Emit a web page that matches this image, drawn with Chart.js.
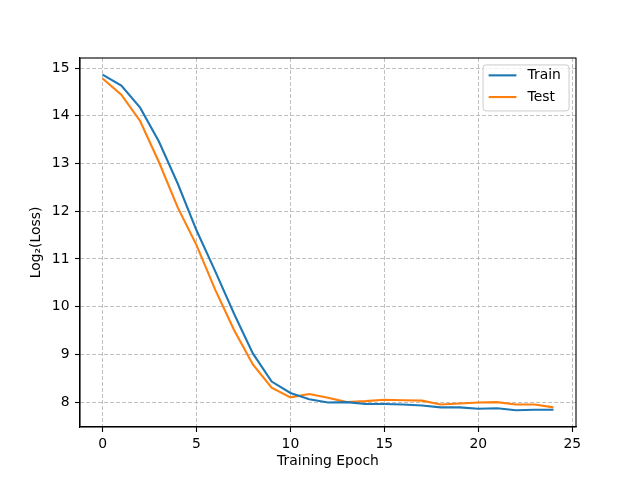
<!DOCTYPE html>
<html>
<head>
<meta charset="utf-8">
<script src="https://cdn.jsdelivr.net/npm/chart.js@4"></script>
<style>
  html, body { margin: 0; padding: 0; background: #ffffff; }
  #wrap { width: 640px; height: 480px; position: relative; }
</style>
</head>
<body>
<div id="wrap"><canvas id="c" width="640" height="480"></canvas></div>
<script>
const epochs = [0, 1, 2, 3, 4, 5, 6, 7, 8, 9, 10, 11, 12, 13, 14, 15, 16, 17, 18, 19, 20, 21, 22, 23, 24];
const trainLoss = [14.86, 14.63, 14.17, 13.46, 12.58, 11.60, 10.74, 9.85, 9.02, 8.43, 8.19, 8.06, 7.99, 8.00, 7.96, 7.96, 7.95, 7.93, 7.89, 7.89, 7.86, 7.87, 7.83, 7.84, 7.84];
const testLoss = [14.78, 14.44, 13.89, 13.03, 12.08, 11.29, 10.35, 9.51, 8.79, 8.30, 8.10, 8.17, 8.09, 8.00, 8.02, 8.05, 8.04, 8.03, 7.95, 7.97, 7.99, 8.00, 7.95, 7.95, 7.89];
const seriesNames = ["Train", "Test"];
const xTicks = [0, 5, 10, 15, 20, 25];
const yTicks = [8, 9, 10, 11, 12, 13, 14, 15];
const xTitle = "Training Epoch";
const yTitle = "Log\u2082(Loss)";

const FONT = "'DejaVu Sans', sans-serif";
const FS = 13.9;
const colors = ["#1f77b4", "#ff7f0e"];

const boxPlugin = {
  id: 'mplBox',
  afterDatasetsDraw(chart) {
    const {ctx, chartArea: a} = chart;
    ctx.save();
    ctx.strokeStyle = '#000';
    ctx.lineWidth = 1.1;
    ctx.strokeRect(a.left, a.top, a.right - a.left, a.bottom - a.top);
    ctx.restore();
  }
};

const legendPlugin = {
  id: 'mplLegend',
  afterDraw(chart) {
    const {ctx, chartArea: a} = chart;
    const em = FS;
    ctx.save();
    ctx.font = FS + "px " + FONT;
    const pad = 0.4 * em, hl = 2 * em, htp = 0.8 * em;
    const rowStep = 21.7;
    const w = 86;
    const h = 46;
    const x1 = a.right - 0.5 * em - w;
    const y1 = a.top + 0.5 * em;
    const r = 3;
    ctx.beginPath();
    ctx.moveTo(x1 + r, y1);
    ctx.lineTo(x1 + w - r, y1);
    ctx.quadraticCurveTo(x1 + w, y1, x1 + w, y1 + r);
    ctx.lineTo(x1 + w, y1 + h - r);
    ctx.quadraticCurveTo(x1 + w, y1 + h, x1 + w - r, y1 + h);
    ctx.lineTo(x1 + r, y1 + h);
    ctx.quadraticCurveTo(x1, y1 + h, x1, y1 + h - r);
    ctx.lineTo(x1, y1 + r);
    ctx.quadraticCurveTo(x1, y1, x1 + r, y1);
    ctx.closePath();
    ctx.fillStyle = 'rgba(255,255,255,0.8)';
    ctx.fill();
    ctx.strokeStyle = '#cccccc';
    ctx.lineWidth = 1;
    ctx.stroke();
    seriesNames.forEach((n, i) => {
      const cy = y1 + 10.4 + i * rowStep;
      ctx.strokeStyle = colors[i];
      ctx.lineWidth = 2.1;
      ctx.beginPath();
      ctx.moveTo(x1 + pad, cy);
      ctx.lineTo(x1 + pad + hl, cy);
      ctx.stroke();
      ctx.fillStyle = '#000';
      ctx.textBaseline = 'middle';
      ctx.textAlign = 'left';
      ctx.fillText(n, x1 + pad + hl + htp, cy + 0.5);
    });
    ctx.restore();
  }
};

const gridCommon = {
  color: '#b0b0b0',
  lineWidth: 0.8,
  drawTicks: true,
  tickLength: 5,
  tickColor: '#000',
  tickWidth: 1.1,
  tickBorderDash: []
};

new Chart(document.getElementById('c'), {
  type: 'line',
  data: {
    datasets: [
      { label: seriesNames[0], data: epochs.map((e, i) => ({x: e, y: trainLoss[i]})),
        borderColor: colors[0], backgroundColor: colors[0], borderWidth: 2.1, pointRadius: 0, tension: 0, fill: false },
      { label: seriesNames[1], data: epochs.map((e, i) => ({x: e, y: testLoss[i]})),
        borderColor: colors[1], backgroundColor: colors[1], borderWidth: 2.1, pointRadius: 0, tension: 0, fill: false }
    ]
  },
  options: {
    responsive: false,
    animation: false,
    devicePixelRatio: 1,
    layout: { padding: { left: 0, right: 64, top: 58, bottom: 0 } },
    plugins: { legend: { display: false }, tooltip: { enabled: false } },
    scales: {
      x: {
        type: 'linear',
        min: -1.2, max: 25.2,
        afterBuildTicks(scale) { scale.ticks = xTicks.map(v => ({value: v})); },
        afterFit(scale) { scale.height = 53; },
        grid: gridCommon,
        border: { display: true, color: '#000', width: 1.1, dash: [4, 2] },
        ticks: { color: '#000', font: { family: FONT, size: FS }, padding: 4, maxRotation: 0, callback: v => String(v) },
        title: { display: true, text: xTitle, color: '#000', font: { family: FONT, size: FS }, padding: { top: 0, bottom: 10 } }
      },
      y: {
        type: 'linear',
        min: 7.478, max: 15.21,
        afterBuildTicks(scale) { scale.ticks = yTicks.map(v => ({value: v})); },
        afterFit(scale) { scale.width = 80; },
        grid: gridCommon,
        border: { display: true, color: '#000', width: 1.1, dash: [4, 2] },
        ticks: { color: '#000', font: { family: FONT, size: FS }, padding: 5.5, callback: v => String(v) },
        title: { display: true, text: yTitle, color: '#000', font: { family: FONT, size: FS }, padding: { top: 28, bottom: 0 } }
      }
    }
  },
  plugins: [boxPlugin, legendPlugin]
});
</script>
</body>
</html>
